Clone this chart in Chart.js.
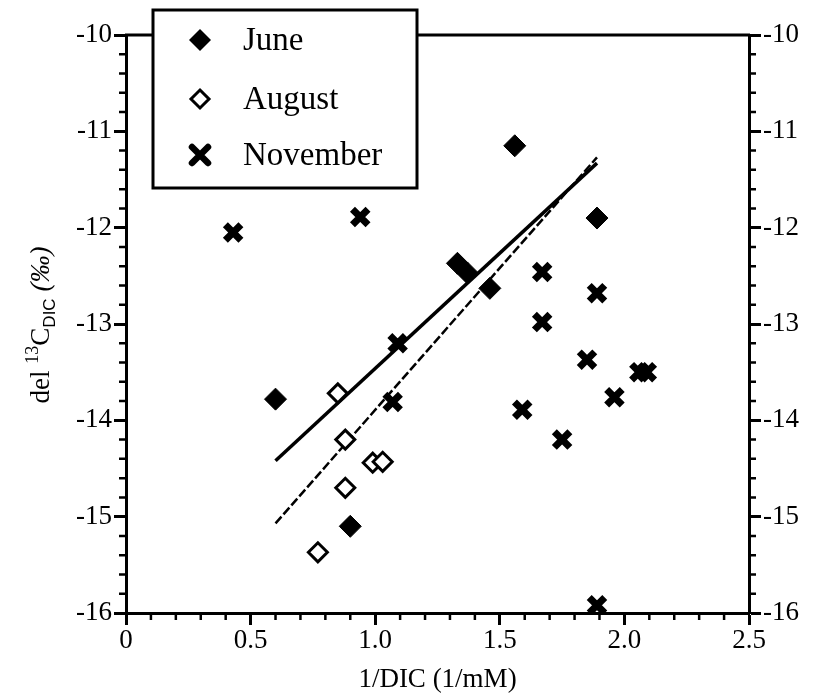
<!DOCTYPE html>
<html>
<head>
<meta charset="utf-8">
<script src="https://cdn.jsdelivr.net/npm/chart.js@4.4.1/dist/chart.umd.min.js"></script>
<style>
  body { margin: 0; background: #fff; }
  #wrap { width: 816px; height: 698px; }
</style>
</head>
<body>
<div id="wrap"><canvas id="myChart"></canvas></div>
<script>
// samples, 1/DIC (1/mM) vs del 13C of DIC (per mil)
const juneX = [0.60, 0.90, 1.33, 1.37, 1.46, 1.56, 1.89];
const juneY = [-13.78, -15.10, -12.37, -12.47, -12.63, -11.15, -11.90];

const augustX = [0.85, 0.88, 0.99, 1.03, 0.88, 0.77];
const augustY = [-13.72, -14.20, -14.44, -14.43, -14.70, -15.37];

const novemberX = [0.43, 0.94, 1.09, 1.07, 1.67, 1.89, 1.67, 1.85, 2.06, 2.09, 1.96, 1.59, 1.75, 1.89];
const novemberY = [-12.05, -11.89, -13.20, -13.81, -12.46, -12.68, -12.98, -13.37, -13.50, -13.50, -13.76, -13.89, -14.20, -15.92];

// regression lines
const fitSolidX = [0.60, 1.89];
const fitSolidY = [-14.42, -11.33];
const fitDashX = [0.60, 1.89];
const fitDashY = [-15.07, -11.27];

const xTicks = [0, 0.5, 1, 1.5, 2, 2.5];
const yTicks = [-16, -15, -14, -13, -12, -11, -10];

const serif = '"Liberation Serif", "Times New Roman", serif';
const tickFont = { family: serif, size: 27 };

function pts(xs, ys) {
    return xs.map((x, i) => ({ x: x, y: ys[i] }));
}

// minor ticks, top frame line, y title and legend box
const frame = {
    id: 'frame',
    afterDraw(chart) {
        const c = chart.ctx;
        const a = chart.chartArea;
        const sx = chart.scales.x, sy = chart.scales.y;
        c.save();
        c.strokeStyle = '#000';
        c.lineWidth = 3;
        c.beginPath();
        c.moveTo(a.left - 1, a.top);
        c.lineTo(a.right + 1, a.top);
        c.stroke();

        c.lineWidth = 2.5;
        c.beginPath();
        for (let i = 0; i <= 25; i++) {
            if (i % 5 === 0) continue;
            const px = sx.getPixelForValue(i / 10);
            c.moveTo(px, a.bottom);
            c.lineTo(px, a.bottom + 7);
        }
        for (let i = 0; i <= 30; i++) {
            if (i % 5 === 0) continue;
            const py = sy.getPixelForValue(-16 + i * 0.2);
            c.moveTo(a.left, py);
            c.lineTo(a.left - 7, py);
            c.moveTo(a.right, py);
            c.lineTo(a.right + 7, py);
        }
        c.stroke();

        // y axis title with super/subscript
        const big = '27px ' + serif;
        const small = '18px ' + serif;
        const sub = '17px "Liberation Sans", Arial, sans-serif';
        const parts = [
            { t: 'del ', f: big, dy: 0 },
            { t: '13', f: small, dy: -11 },
            { t: 'C', f: big, dy: 0 },
            { t: 'DIC', f: sub, dy: 6 },
            { t: ' (‰)', f: 'italic ' + big, dy: 0 }
        ];
        let total = 0;
        parts.forEach(p => { c.font = p.f; p.w = c.measureText(p.t).width; total += p.w; });
        c.translate(40, 325);
        c.rotate(-Math.PI / 2);
        c.fillStyle = '#000';
        c.textBaseline = 'alphabetic';
        let cx = -total / 2;
        parts.forEach(p => {
            c.font = p.f;
            c.fillText(p.t, cx, 9 + p.dy);
            cx += p.w;
        });
        c.restore();

        // legend
        c.save();
        c.fillStyle = '#fff';
        c.fillRect(153, 10, 264, 178);
        c.strokeStyle = '#000';
        c.lineWidth = 3;
        c.strokeRect(153, 10, 264, 178);
        const rows = [
            { label: 'June', y: 40, kind: 'filled' },
            { label: 'August', y: 99, kind: 'open' },
            { label: 'November', y: 155, kind: 'cross' }
        ];
        const mx = 200;
        rows.forEach(r => {
            c.beginPath();
            if (r.kind === 'cross') {
                const d = 8;
                c.lineWidth = 6.5;
                c.lineCap = 'round';
                c.moveTo(mx - d, r.y - d); c.lineTo(mx + d, r.y + d);
                c.moveTo(mx + d, r.y - d); c.lineTo(mx - d, r.y + d);
                c.stroke();
            } else {
                const d = r.kind === 'filled' ? 11 : 9;
                c.moveTo(mx, r.y - d); c.lineTo(mx + d, r.y);
                c.lineTo(mx, r.y + d); c.lineTo(mx - d, r.y);
                c.closePath();
                if (r.kind === 'filled') {
                    c.fillStyle = '#000'; c.fill();
                } else {
                    c.lineWidth = 3; c.stroke();
                }
            }
            c.fillStyle = '#000';
            c.font = '33px ' + serif;
            c.textBaseline = 'middle';
            c.fillText(r.label, 243, r.y + 1);
        });
        c.restore();
    }
};

const ctx = document.getElementById('myChart');

new Chart(ctx, {
    type: 'scatter',
    data: {
        datasets: [{
            label: 'June',
            data: pts(juneX, juneY),
            pointStyle: 'rectRot',
            pointRadius: 11,
            backgroundColor: '#000',
            borderColor: '#000',
            borderWidth: 1
        }, {
            label: 'August',
            data: pts(augustX, augustY),
            pointStyle: 'rectRot',
            pointRadius: 9.5,
            backgroundColor: '#fff',
            borderColor: '#000',
            borderWidth: 3
        }, {
            label: 'November',
            data: pts(novemberX, novemberY),
            pointStyle: 'crossRot',
            pointRadius: 11,
            borderColor: '#000',
            borderWidth: 7
        }, {
            type: 'line',
            label: 'fit 1',
            data: pts(fitSolidX, fitSolidY),
            borderColor: '#000',
            borderWidth: 3.5,
            pointRadius: 0,
            fill: false
        }, {
            type: 'line',
            label: 'fit 2',
            data: pts(fitDashX, fitDashY),
            borderColor: '#000',
            borderWidth: 2.5,
            borderDash: [9, 3],
            pointRadius: 0,
            fill: false
        }]
    },
    options: {
        responsive: true,
        maintainAspectRatio: false,
        animation: false,
        layout: { padding: { top: 35, left: 0, right: 0, bottom: 0 } },
        plugins: {
            legend: { display: false },
            tooltip: { enabled: false }
        },
        scales: {
            x: {
                type: 'linear',
                min: 0,
                max: 2.5,
                afterBuildTicks: s => { s.ticks = xTicks.map(v => ({ value: v })); },
                afterFit: s => { s.height = 85; },
                ticks: { color: '#000', font: tickFont, padding: 0, maxRotation: 0 },
                grid: { drawOnChartArea: false, color: '#000', tickLength: 12, tickWidth: 3 },
                border: { color: '#000', width: 3 },
                title: {
                    display: true,
                    text: '1/DIC (1/mM)',
                    color: '#000',
                    font: { family: serif, size: 27 },
                    padding: { top: 0, bottom: 2 }
                }
            },
            y: {
                position: 'left',
                min: -16,
                max: -10,
                afterBuildTicks: s => { s.ticks = yTicks.map(v => ({ value: v })); },
                afterFit: s => { s.width = 126; },
                ticks: { color: '#000', font: tickFont, padding: 2 },
                grid: { drawOnChartArea: false, color: '#000', tickLength: 12, tickWidth: 3 },
                border: { color: '#000', width: 3 }
            },
            y2: {
                position: 'right',
                min: -16,
                max: -10,
                afterBuildTicks: s => { s.ticks = yTicks.map(v => ({ value: v })); },
                afterFit: s => { s.width = 67; },
                ticks: { color: '#000', font: tickFont, padding: 2 },
                grid: { drawOnChartArea: false, color: '#000', tickLength: 12, tickWidth: 3 },
                border: { color: '#000', width: 3 }
            }
        }
    },
    plugins: [frame]
});
</script>
</body>
</html>
